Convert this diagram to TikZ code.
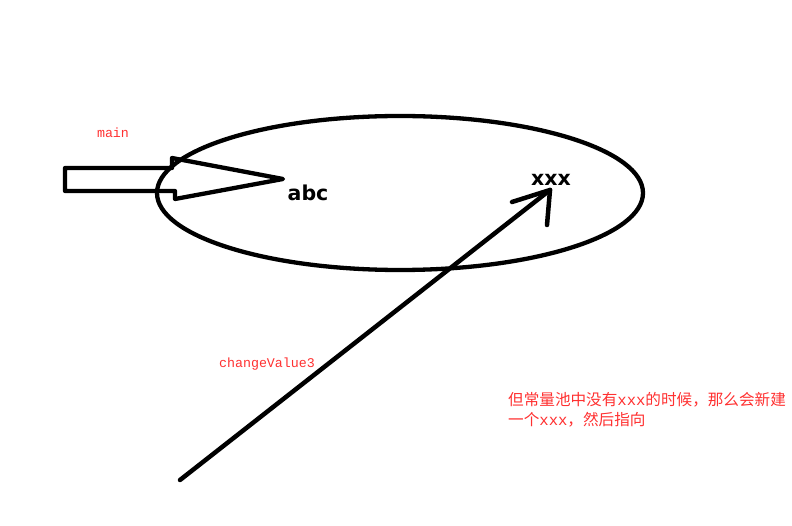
\documentclass[tikz,border=0pt]{standalone}
\usepackage{fontspec}
\setsansfont{DejaVu Sans}
\newfontfamily\cjk{Noto Sans CJK SC}
\newfontfamily\monofont{Liberation Mono}
\definecolor{notered}{RGB}{255,48,48}

\begin{document}
\begin{tikzpicture}[x=1pt, y=-1pt,
    pen/.style={line width=4.5pt, line cap=round, line join=round},
    redlabel/.style={text=notered, font=\monofont\fontsize{13.3}{16}\selectfont, inner sep=0pt},
    value/.style={font=\sffamily\bfseries\fontsize{20.5}{24}\selectfont, inner sep=0pt}]
    \useasboundingbox (0,0) rectangle (792,526);

    % string pool
    \draw[line width=4.3pt] (400,193) ellipse [x radius=243pt, y radius=77pt];
    \node[value] (abc) at (308,193) {abc};
    \node[value] (xxx) at (551,180) {xxx};

    % reference held by main
    \node[redlabel] (main) at (113,133) {main};
    \draw[line width=4.3pt, line join=round] (65,168) -- (172,168) -- (172,158) -- (283,179)
        -- (175,199) -- (175,191) -- (65,191) -- cycle;

    % reference held by changeValue3
    \node[redlabel] (change) at (267,364) {changeValue3};
    \coordinate (start) at (180,480);
    \coordinate (tip) at (550,190);
    \draw[pen] (start) -- (tip);
    \draw[pen] (tip) -- ++(-38,12);
    \draw[pen] (tip) -- ++(-3,35);

    \node[text=notered, font=\cjk\fontsize{15.6}{20}\selectfont, align=left, anchor=north west, inner sep=0pt]
        (note) at (508,392) {但常量池中没有{\monofont xxx}的时候，那么会新建\\一个{\monofont xxx}，然后指向};
\end{tikzpicture}
\end{document}
